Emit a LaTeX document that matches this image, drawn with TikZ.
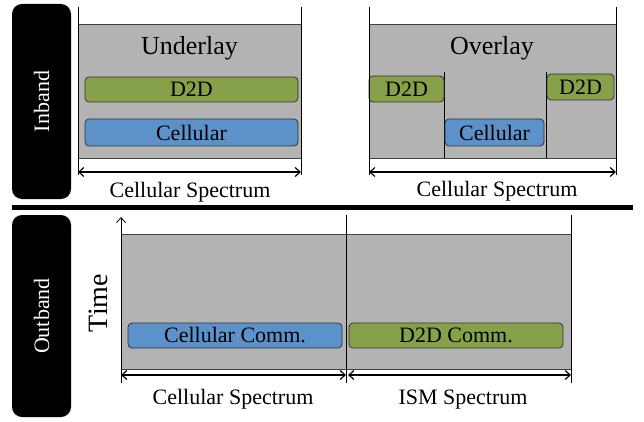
\documentclass[tikz,border=0pt]{standalone}
\usepackage{fontspec}
\setmainfont{Liberation Serif}
\usetikzlibrary{arrows.meta}
\definecolor{bgray}{RGB}{179,179,179}
\definecolor{dgreen}{RGB}{134,161,74}
\definecolor{dblue}{RGB}{92,145,201}
\begin{document}
\begin{tikzpicture}[x=1pt,y=-1pt,
  band/.style={fill=black, rounded corners=10pt, inner sep=0pt, minimum width=59pt, text=white, font=\fontsize{22}{24}\selectfont},
  area/.style={fill=bgray, draw=black!75, line width=0.6pt, inner sep=0pt},
  chan/.style={rounded corners=4pt, draw=black!80, line width=0.8pt, inner sep=0pt, font=\fontsize{22}{24}\selectfont},
  d2d/.style={chan, fill=dgreen},
  cell/.style={chan, fill=dblue},
  title/.style={font=\fontsize{26}{28}\selectfont, inner sep=0pt},
  lbl/.style={font=\fontsize{22}{24}\selectfont, inner sep=0pt, anchor=base},
  edge/.style={draw=black, line width=0.8pt},
  dim/.style={draw=black, line width=1.2pt, {Straight Barb[length=5pt,width=9pt]}-{Straight Barb[length=5pt,width=9pt]}},
]
\useasboundingbox (0,0) rectangle (644,422);

% side bands
\node[band, minimum height=195pt] (inband) at (41.5,101.5) {\rotatebox{90}{Inband}};
\node[band, minimum height=202pt] (outband) at (41.5,316) {\rotatebox{90}{Outband}};
\node[fill=black, inner sep=0pt, minimum width=621pt, minimum height=5pt] (sep) at (322.5,207.5) {};

% ---------- Underlay ----------
\node[area, minimum width=223pt, minimum height=134pt] (ua) at (189.5,91) {};
\node[title] (ut) at (189.5,48) {Underlay};
\node[d2d, minimum width=213pt, minimum height=25pt] (ud) at (191.5,89.5) {D2D};
\node[cell, minimum width=213pt, minimum height=27pt] (uc) at (191.5,132.5) {Cellular};
\coordinate (ul1) at (78,7);  \coordinate (ul2) at (78,175);
\coordinate (ur1) at (301,7); \coordinate (ur2) at (301,175);
\draw[edge] (ul1) -- (ul2);
\draw[edge] (ur1) -- (ur2);
\coordinate (ua1) at (78,172); \coordinate (ua2) at (301,172);
\draw[dim] (ua1) -- (ua2);
\node[lbl] (us) at (190,197) {Cellular Spectrum};

% ---------- Overlay ----------
\node[area, minimum width=247pt, minimum height=134pt] (oa) at (492.5,91) {};
\coordinate (om1a) at (444,72); \coordinate (om1b) at (444,158);
\coordinate (om2a) at (546,72); \coordinate (om2b) at (546,158);
\draw[edge] (om1a) -- (om1b);
\draw[edge] (om2a) -- (om2b);
\node[title] (ot) at (492,48) {Overlay};
\node[d2d, minimum width=75pt, minimum height=26pt] (odl) at (406.5,89) {D2D};
\node[d2d, minimum width=67pt, minimum height=26pt] (odr) at (580.5,87) {D2D};
\node[cell, minimum width=99pt, minimum height=27pt] (oc) at (494.5,132.5) {Cellular};
\coordinate (ol1) at (369,7);  \coordinate (ol2) at (369,175);
\coordinate (or1) at (616,7);  \coordinate (or2) at (616,175);
\draw[edge] (ol1) -- (ol2);
\draw[edge] (or1) -- (or2);
\coordinate (oa1) at (369,172); \coordinate (oa2) at (616,172);
\draw[dim] (oa1) -- (oa2);
\node[lbl] (os) at (497,196) {Cellular Spectrum};

% ---------- Outband ----------
\node[area, minimum width=450pt, minimum height=135pt] (ba) at (346,301.5) {};
\coordinate (tb) at (121,383); \coordinate (tt) at (121,217);
\draw[edge, -{Straight Barb[length=5pt,width=9pt]}] (tb) -- (tt);
\coordinate (bm1) at (346,215); \coordinate (bm2) at (346,383);
\coordinate (br1) at (571,215); \coordinate (br2) at (571,383);
\draw[edge] (bm1) -- (bm2);
\draw[edge] (br1) -- (br2);
\node[cell, minimum width=214pt, minimum height=25pt] (bc) at (235,335.5) {Cellular Comm.};
\node[d2d, minimum width=214pt, minimum height=25pt] (bd) at (456,335.5) {D2D Comm.};
\coordinate (ba1) at (121,375); \coordinate (ba2) at (346,375);
\coordinate (ba3) at (348,375); \coordinate (ba4) at (571,375);
\draw[dim] (ba1) -- (ba2);
\draw[dim] (ba3) -- (ba4);
\node[title, rotate=90, font=\fontsize{28}{30}\selectfont] (time) at (98,303) {Time};
\node[lbl] (bs1) at (233,404) {Cellular Spectrum};
\node[lbl] (bs2) at (463,404) {ISM Spectrum};
\end{tikzpicture}
\end{document}
